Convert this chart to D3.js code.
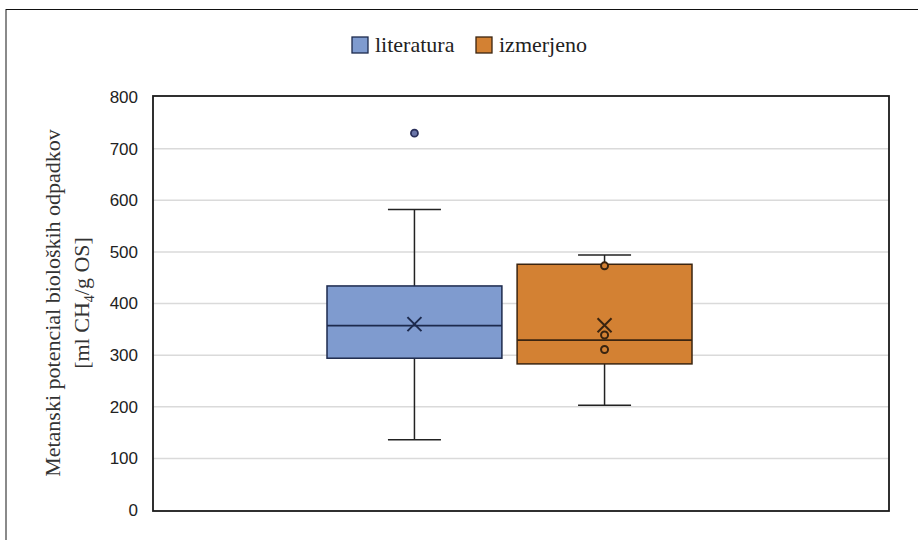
<!DOCTYPE html>
<html>
<head>
<meta charset="utf-8">
<script src="https://cdn.jsdelivr.net/npm/d3@7"></script>
<style>
  body { margin: 0; background: #fff; }
  svg { display: block; }
</style>
</head>
<body>
<div id="chart"></div>
<script>
  // data
  const series = ["literatura", "izmerjeno"];
  const fills = ["#7f9bcf", "#d38133"];
  const strokes = ["#1d2a4d", "#3a2410"];
  const whiskerLow = [136, 203];
  const q1 = [294, 283];
  const median = [357, 329];
  const q3 = [434, 476];
  const whiskerHigh = [582, 494];
  const means = [360, 358];
  const outliers = [[730], []];
  const innerPoints = [[], [473, 339, 311]];
  const yTicks = [0, 100, 200, 300, 400, 500, 600, 700, 800];

  const W = 918, H = 540;
  const plot = { left: 153, right: 889, top: 96, bottom: 511 };

  const svg = d3.select("#chart").append("svg")
    .attr("width", W)
    .attr("height", H);

  // outer frame
  svg.append("line")
    .attr("x1", 6).attr("x2", 6).attr("y1", 9).attr("y2", H)
    .attr("stroke", "#8a8a8a").attr("stroke-width", 2);
  svg.append("line")
    .attr("x1", 6).attr("x2", W).attr("y1", 9.5).attr("y2", 9.5)
    .attr("stroke", "#111").attr("stroke-width", 1.2);

  const y = d3.scaleLinear().domain([0, 800]).range([510, 97]);
  const x = d3.scaleBand().domain(series).range([327, 692]).paddingInner(0.08);

  // gridlines
  svg.append("g")
    .selectAll("line")
    .data(yTicks.filter(d => d > 0 && d < 800))
    .join("line")
    .attr("x1", plot.left).attr("x2", plot.right)
    .attr("y1", d => y(d)).attr("y2", d => y(d))
    .attr("stroke", "#dadada").attr("stroke-width", 1.5);

  // y axis labels
  const yAxis = svg.append("g")
    .attr("transform", `translate(${plot.left - 15},0)`)
    .call(d3.axisLeft(y).tickValues(yTicks).tickSize(0).tickPadding(0));
  yAxis.select(".domain").remove();
  yAxis.selectAll("text")
    .attr("font-family", "'Liberation Sans', Arial, sans-serif")
    .attr("font-size", 17)
    .attr("fill", "#222");

  // y axis title
  const title = svg.append("text")
    .attr("transform", "translate(0,303) rotate(-90)")
    .attr("text-anchor", "middle")
    .attr("font-family", "'Liberation Serif', 'DejaVu Serif', serif")
    .attr("font-size", 22)
    .attr("fill", "#333");
  title.append("tspan").attr("x", 0).attr("y", 60).text("Metanski potencial bioloških odpadkov");
  const l2 = title.append("tspan").attr("x", 0).attr("y", 89);
  l2.append("tspan").text("[ml CH");
  l2.append("tspan").attr("font-size", 14).attr("dy", 5).text("4");
  l2.append("tspan").attr("dy", -5).text("/g OS]");

  // boxes
  series.forEach((s, i) => {
    const g = svg.append("g");
    const x0 = x(s), bw = x.bandwidth(), cx = x0 + bw / 2;
    const capW = 53;

    g.append("line")
      .attr("x1", cx).attr("x2", cx)
      .attr("y1", y(whiskerHigh[i])).attr("y2", y(q3[i]))
      .attr("stroke", "#222").attr("stroke-width", 1.5);
    g.append("line")
      .attr("x1", cx).attr("x2", cx)
      .attr("y1", y(q1[i])).attr("y2", y(whiskerLow[i]))
      .attr("stroke", "#222").attr("stroke-width", 1.5);
    [whiskerHigh[i], whiskerLow[i]].forEach(v => {
      g.append("line")
        .attr("x1", cx - capW / 2).attr("x2", cx + capW / 2)
        .attr("y1", y(v)).attr("y2", y(v))
        .attr("stroke", "#222").attr("stroke-width", 1.5);
    });

    g.append("rect")
      .attr("x", x0).attr("width", bw)
      .attr("y", y(q3[i])).attr("height", y(q1[i]) - y(q3[i]))
      .attr("fill", fills[i])
      .attr("stroke", strokes[i]).attr("stroke-width", 1.5);

    g.append("line")
      .attr("x1", x0).attr("x2", x0 + bw)
      .attr("y1", y(median[i])).attr("y2", y(median[i]))
      .attr("stroke", strokes[i]).attr("stroke-width", 1.8);

    innerPoints[i].forEach(v => {
      g.append("circle")
        .attr("cx", cx).attr("cy", y(v)).attr("r", 3.5)
        .attr("fill", fills[i])
        .attr("stroke", strokes[i]).attr("stroke-width", 2);
    });

    outliers[i].forEach(v => {
      g.append("circle")
        .attr("cx", cx).attr("cy", y(v)).attr("r", 3.5)
        .attr("fill", "#6a75a8")
        .attr("stroke", "#2a2f5a").attr("stroke-width", 1.8);
    });

    // mean marker
    const m = 7, my = y(means[i]);
    g.append("path")
      .attr("d", `M${cx - m},${my - m}L${cx + m},${my + m}M${cx - m},${my + m}L${cx + m},${my - m}`)
      .attr("stroke", strokes[i]).attr("stroke-width", 2)
      .attr("fill", "none");
  });

  // plot frame
  svg.append("rect")
    .attr("x", plot.left).attr("y", plot.top)
    .attr("width", plot.right - plot.left).attr("height", plot.bottom - plot.top)
    .attr("fill", "none")
    .attr("stroke", "#1a1a1a").attr("stroke-width", 1.8);

  // legend
  const legendX = [352, 476];
  series.forEach((s, i) => {
    svg.append("rect")
      .attr("x", legendX[i]).attr("y", 37)
      .attr("width", 16).attr("height", 16)
      .attr("fill", fills[i])
      .attr("stroke", strokes[i]).attr("stroke-width", 1.3);
    svg.append("text")
      .attr("x", legendX[i] + 23).attr("y", 52)
      .attr("font-family", "'Liberation Serif', 'DejaVu Serif', serif")
      .attr("font-size", 22)
      .attr("fill", "#222")
      .text(s);
  });
</script>
</body>
</html>
